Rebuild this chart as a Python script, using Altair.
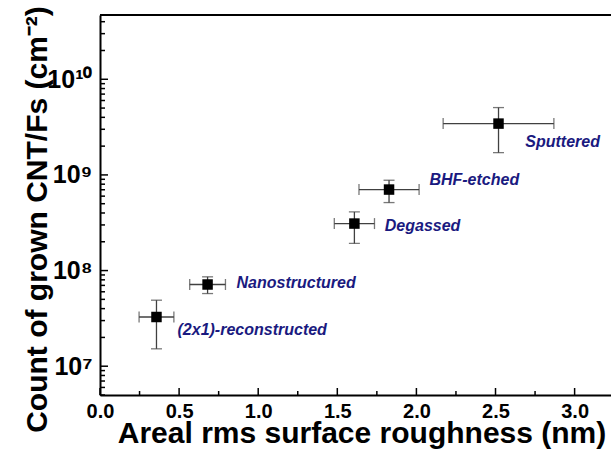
import altair as alt
import pandas as pd

# ---- data ----
samples = ["(2x1)-reconstructed", "Nanostructured", "Degassed", "BHF-etched", "Sputtered"]
roughness = [0.357, 0.680, 1.608, 1.827, 2.519]
roughness_err = [0.110, 0.113, 0.127, 0.190, 0.350]
count = [3.27e7, 7.15e7, 3.10e8, 7.03e8, 3.44e9]
count_lo = [1.52e7, 5.75e7, 1.92e8, 5.14e8, 1.71e9]
count_hi = [4.90e7, 8.60e7, 4.10e8, 8.80e8, 5.06e9]
label_x = [0.49, 0.863, 1.80, 2.082, 2.688]
label_y = [2.38e7, 7.5e7, 2.93e8, 8.8e8, 2.21e9]

x_major = [0.0, 0.5, 1.0, 1.5, 2.0, 2.5, 3.0]
x_minor = [0.25, 0.75, 1.25, 1.75, 2.25, 2.75]
y_major = [1e7, 1e8, 1e9, 1e10]
y_minor = [5e6, 6e6, 7e6, 8e6, 9e6,
           2e7, 3e7, 4e7, 5e7, 6e7, 7e7, 8e7, 9e7,
           2e8, 3e8, 4e8, 5e8, 6e8, 7e8, 8e8, 9e8,
           2e9, 3e9, 4e9, 5e9, 6e9, 7e9, 8e9, 9e9,
           2e10, 3e10, 4e10]
y_labels = {1e7: "10⁷", 1e8: "10⁸", 1e9: "10⁹", 1e10: "10¹⁰"}

df = pd.DataFrame({
    "sample": samples,
    "x": roughness,
    "xlo": [r - e for r, e in zip(roughness, roughness_err)],
    "xhi": [r + e for r, e in zip(roughness, roughness_err)],
    "y": count,
    "ylo": count_lo,
    "yhi": count_hi,
    "lx": label_x,
    "ly": label_y,
})

W, H = 511, 380
FONT = "Liberation Sans"
xscale = alt.Scale(domain=[0, 3.23], nice=False, zero=False)
yscale = alt.Scale(type="log", domain=[5e6, 4.7e10], nice=False)

label_expr = " : ".join(
    f"datum.value == {v:g} ? '{t}'" for v, t in y_labels.items()
) + " : ''"

xaxis = alt.Axis(
    title="Areal rms surface roughness (nm)",
    values=x_major, format=".1f", ticks=False, grid=False,
    domainColor="black", domainWidth=2,
    labelFont=FONT, labelFontSize=20, labelFontWeight="bold", labelColor="black",
    labelPadding=6, labelFlush=False,
    titleFont=FONT, titleFontSize=30, titleFontWeight="bold", titleColor="black",
    titleBaseline="alphabetic", titleY=47, titleX=W / 2 + 6)
yaxis = alt.Axis(
    title="Count of grown CNT/Fs (cm⁻²)",
    values=y_major, labelExpr=label_expr, ticks=False, grid=False,
    domainColor="black", domainWidth=2,
    labelFont=FONT, labelFontSize=25, labelFontWeight="bold", labelColor="black",
    labelPadding=8, labelFlush=False,
    titleFont=FONT, titleFontSize=30, titleFontWeight="bold", titleColor="black",
    titleAngle=-90, titleBaseline="alphabetic", titleAlign="center",
    titleX=-54, titleY=204)

base = alt.Chart(df)

points = base.mark_square(size=110, color="black", opacity=1, filled=True).encode(
    x=alt.X("x:Q", scale=xscale, axis=xaxis),
    y=alt.Y("y:Q", scale=yscale, axis=yaxis),
)

xerr = base.mark_errorbar(
    ticks={"size": 11, "color": "#404040", "thickness": 1.3},
    rule={"color": "#404040", "strokeWidth": 1.3},
).encode(
    x=alt.X("xlo:Q", scale=xscale, axis=xaxis),
    x2="xhi:Q",
    y=alt.Y("y:Q", scale=yscale, axis=yaxis),
)

yerr = base.mark_errorbar(
    ticks={"size": 11, "color": "#404040", "thickness": 1.3},
    rule={"color": "#404040", "strokeWidth": 1.3},
).encode(
    y=alt.Y("ylo:Q", scale=yscale, axis=yaxis),
    y2="yhi:Q",
    x=alt.X("x:Q", scale=xscale, axis=xaxis),
)

labels = base.mark_text(
    align="left", baseline="middle", font=FONT, fontSize=16,
    fontStyle="italic", fontWeight="bold", color="#1a1a80",
).encode(
    x=alt.X("lx:Q", scale=xscale, axis=xaxis),
    y=alt.Y("ly:Q", scale=yscale, axis=yaxis),
    text="sample:N",
)

def xticks(values, length):
    return alt.Chart(pd.DataFrame({"v": values})).mark_rule(
        color="black", strokeWidth=1.5).encode(
        x=alt.X("v:Q", scale=xscale, axis=xaxis),
        y=alt.value(H), y2=alt.value(H - length))

def yticks(values, length):
    return alt.Chart(pd.DataFrame({"v": values})).mark_rule(
        color="black", strokeWidth=1.5).encode(
        y=alt.Y("v:Q", scale=yscale, axis=yaxis),
        x=alt.value(0), x2=alt.value(length))

top_border = alt.Chart(pd.DataFrame({"v": [0]})).mark_rule(
    color="black", strokeWidth=2).encode(
    x=alt.value(0), x2=alt.value(W), y=alt.value(0))

chart = alt.layer(
    xticks(x_major, 7), xticks(x_minor, 4),
    yticks(y_major, 8), yticks(y_minor, 5),
    top_border, xerr, yerr, points, labels,
).properties(
    width=W, height=H,
    autosize=alt.AutoSizeParams(type="none"),
    padding={"left": 100, "top": 15, "right": 0, "bottom": 54},
    background="white",
).configure_view(strokeWidth=0)

chart.save("out.html", embed_options={"renderer": "svg", "actions": False})
